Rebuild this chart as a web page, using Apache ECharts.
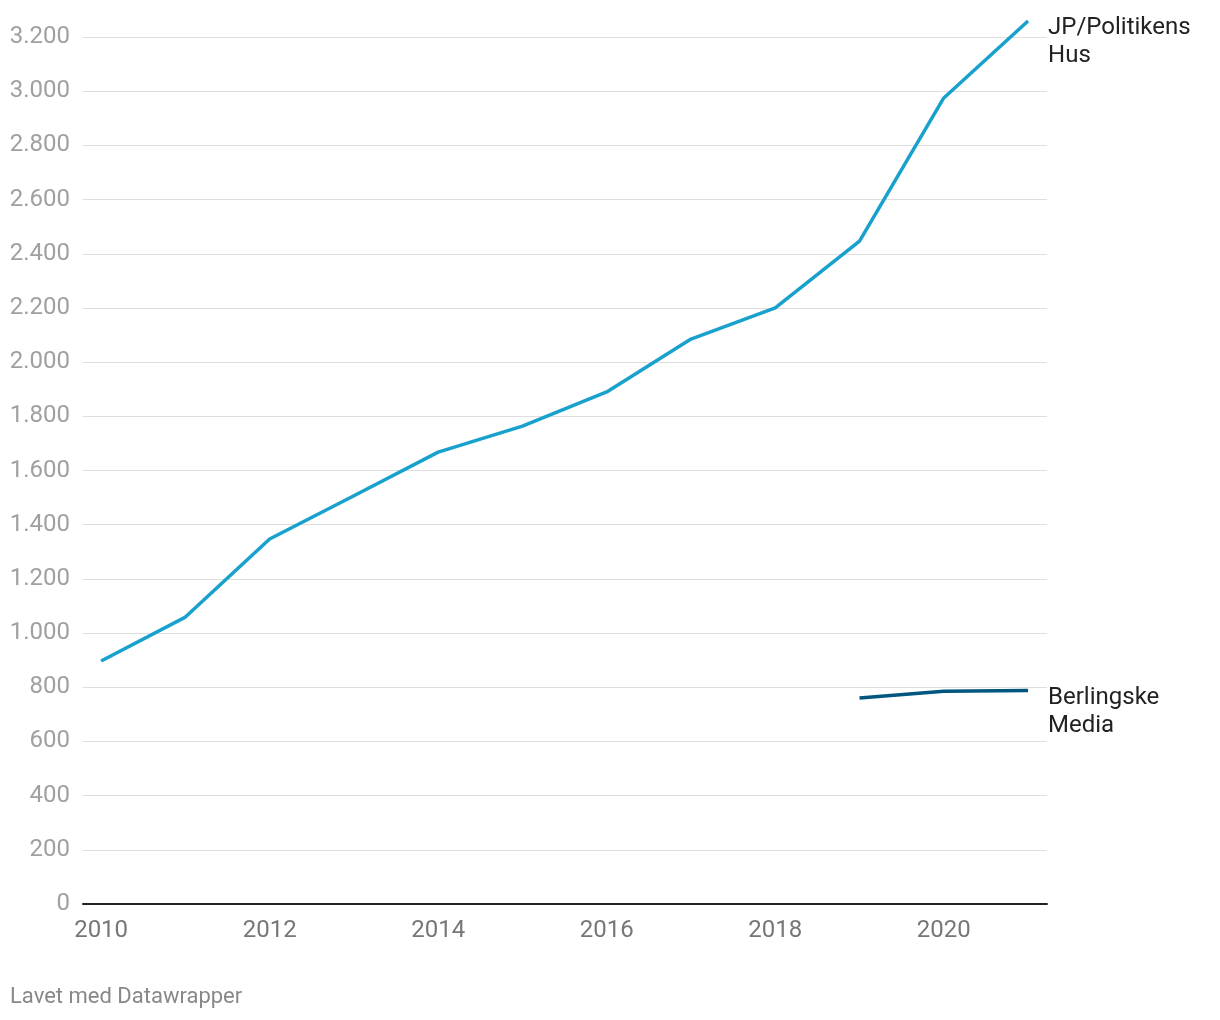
<!DOCTYPE html>
<html><head><meta charset="utf-8">
<script src="https://cdn.jsdelivr.net/npm/echarts@6/dist/echarts.min.js"></script>
<style>html,body{margin:0;padding:0;background:#fff}#c{width:1220px;height:1020px}</style>
</head><body><div id="c"></div>
<script>
const years = [2010, 2011, 2012, 2013, 2014, 2015, 2016, 2017, 2018, 2019, 2020, 2021];
const jpValues = [897, 1059, 1347, 1507, 1668, 1764, 1890, 2085, 2200, 2447, 2975, 3259];
const berlYears = [2019, 2020, 2021];
const berlValues = [760, 785, 788];
const xTickLabels = [2010, 2012, 2014, 2016, 2018, 2020];
const seriesNames = ['JP/Politikens\nHus', 'Berlingske\nMedia'];

const font = 'Roboto, "Noto Sans", sans-serif';
const chart = echarts.init(document.getElementById('c'));
const endLbl = {
  show: true, formatter: p => p.seriesName, color: '#222', fontFamily: font, fontSize: 24,
  lineHeight: 28, align: 'left', verticalAlign: 'middle', distance: 20, offset: [0, 21]
};
chart.setOption({
  animation: false,
  backgroundColor: '#fff',
  grid: { left: 83, right: 173, top: 37, bottom: 116, containLabel: false },
  xAxis: {
    type: 'value', min: 2009.785, max: 2021.225,
    axisLine: { show: true, lineStyle: { color: '#222', width: 2 } },
    axisTick: { show: false },
    splitLine: { show: false },
    axisLabel: { customValues: xTickLabels, formatter: v => String(v), color: '#777',
      fontFamily: font, fontSize: 24, margin: 15 }
  },
  yAxis: {
    type: 'value', min: 0, max: 3200, interval: 200,
    axisLine: { show: false }, axisTick: { show: false },
    splitLine: { lineStyle: { color: '#dedede', width: 1 } },
    axisLabel: { color: '#a0a0a0', fontFamily: font, fontSize: 24, margin: 13,
      padding: [3, 0, 0, 0],
      formatter: v => v.toString().replace(/\B(?=(\d{3})+(?!\d))/g, '.') }
  },
  series: [
    { name: seriesNames[0], type: 'line', clip: false, symbol: 'none',
      data: years.map((y, i) => [y, jpValues[i]]),
      lineStyle: { color: '#18a1cd', width: 3.5 }, itemStyle: { color: '#18a1cd' },
      endLabel: endLbl },
    { name: seriesNames[1], type: 'line', clip: false, symbol: 'none',
      data: berlYears.map((y, i) => [y, berlValues[i]]),
      lineStyle: { color: '#00567f', width: 3.5 }, itemStyle: { color: '#00567f' },
      endLabel: endLbl }
  ],
  graphic: [{ type: 'text', left: 10, top: 986,
    style: { text: 'Lavet med Datawrapper', fill: '#888', font: '22px ' + font } }]
});
</script></body></html>
